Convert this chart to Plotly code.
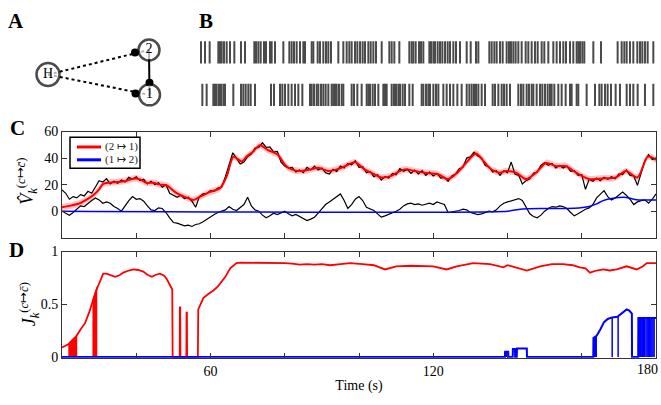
import plotly.graph_objects as go

W, H = 661, 405
def px(x): return x / W
def py(y): return 1 - y / H

# ---------------- Panel A: network diagram ----------------
node_names = ["H", "2", "1"]
node_x = [48, 149, 149.5]
node_y = [70, 44.5, 91]
node_size = [23, 21, 21]
edges = [("H", "2", "dash"), ("H", "1", "dash"), ("2", "1", "solid")]
head_x = [135, 135.5, 149.5]
head_y = [47, 89.5, 78.5]

# ---------------- Panel B: spike raster ----------------
spikes_n2 = [20.35, 21.75, 23.38, 26.42, 27.0, 27.59, 28.4, 29.34, 30.5, 32.02, 34.35, 35.76,
             39.02, 39.61, 40.42, 41.24, 42.41, 43.11, 44.51, 45.09, 46.26, 49.18, 51.28, 52.09,
             52.91, 53.84, 55.01, 56.18, 56.76, 59.1, 59.68, 61.2, 62.01, 63.18, 64.11, 64.93,
             65.86, 68.43, 70.18, 71.35, 72.28,
             73.1, 74.27, 75.09, 76.03, 76.95, 77.77, 78.94, 79.76, 80.69, 81.62, 83.61, 86.29,
             87.11, 88.04, 89.79, 93.29, 94.11, 94.69, 95.51, 96.68, 97.38, 98.19, 100.3, 100.88,
             101.7, 102.28, 103.21, 104.03, 104.85, 105.78, 106.71, 107.53, 108.7, 109.63, 111.03,
             113.37, 114.77, 116.63, 117.45, 121.3, 122.12, 123.05, 123.87, 125.04, 125.97,
             127.36, 128.18, 128.88, 129.7, 130.51, 131.45, 132.62, 134.02, 134.95, 136.12, 137.28,
             138.22, 139.62, 140.55, 141.95, 143.7, 144.87, 146.04, 147.2, 148.14, 149.54, 150.7,
             151.87, 152.45, 153.04, 153.85, 154.55, 157.71, 160.39, 166.22, 167.63, 168.56,
             169.38, 170.54, 171.71, 173.11, 174.05, 174.86, 175.79, 176.73, 178.71]
spikes_n1 = [20.82, 22.33, 24.67, 25.25, 25.84, 26.65, 27.35, 28.17, 28.75, 31.67, 34.35, 35.17,
             35.99, 36.92, 37.74, 39.26, 44.86, 45.91, 48.01, 48.83, 49.76, 50.93, 52.09, 53.26,
             54.43, 55.83, 58.51, 59.1, 59.91, 60.85, 61.43, 62.36, 63.18, 63.99, 64.93, 66.1,
             66.68, 67.26, 67.85, 68.66, 69.6, 70.18,
             73.1, 73.92, 75.09, 76.6, 78.36, 78.94, 79.52, 80.46, 81.27, 82.44, 84.19, 84.77,
             85.36, 87.11, 87.92, 88.62, 89.44, 90.03, 90.96, 91.78, 93.29, 94.46, 97.61, 98.19,
             99.13, 99.94, 100.53, 101.7, 102.63, 103.45, 105.2, 106.36, 107.53, 108.7, 110.1,
             111.61, 113.37, 114.3, 115.12, 115.93, 116.63, 117.45, 118.62, 119.79, 122.47,
             123.28, 124.45, 125.62, 126.44,
             127.36, 128.53, 131.45, 132.38, 133.2, 134.37, 135.18, 136.12, 136.7, 137.87, 139.03,
             139.85, 140.78, 141.72, 142.53, 143.12, 144.05, 145.45, 146.62, 148.02, 149.54,
             150.12, 151.87, 152.45, 155.37, 158.29, 159.81, 160.62, 161.79, 162.72, 163.89,
             165.52, 167.04, 169.38, 170.54, 171.71, 173.23, 175.79, 178.71]

# ---------------- Panel C ----------------
red_t = [20, 22, 24.8, 26.5, 28.4, 30, 31.1, 32.9, 35, 37.4, 39.7, 41, 42.8, 44.5, 46.4, 48.2,
         50.4, 52, 53.6, 55.4, 57.2, 59.9, 62.6, 64.4, 66.2, 68.4, 69.8, 71.5, 73.3, 75.5, 78.2,
         80, 81.8, 84.5, 87, 89, 91.7, 94, 96.2, 98.9, 101.5, 104, 106, 108.7, 110.5, 112.3, 115,
         117.7, 121.3, 124, 126.5, 128.8, 131.5, 133.3, 135.1, 137.8, 139.6, 142.3, 145, 147.7,
         150.4, 153.1, 155.8, 158.5, 162, 165.6, 169.2, 171.9, 175, 177.8, 180]
red_v = [2.9, 4, 6, 8.5, 12, 16.5, 20.6, 21.5, 22, 23, 24.7, 24, 21.3, 21.5, 20, 19.4, 14.5, 12,
         10.2, 8.5, 10.9, 14.5, 17.4, 26.6, 41, 37.5, 41.3, 45, 49.6, 46, 42.4, 35.1, 31.5, 30.3,
         31.5, 32.7, 30.3, 31.5, 33.9, 36.8, 31.5, 28, 25.4, 26.6, 29.5, 31.5, 30.3, 29, 27.8,
         24.2, 29, 36.3, 43.5, 38.7, 32.7, 29, 30.3, 29, 24.2, 29, 36.3, 33.9, 33.9, 29, 24.2,
         24.7, 25.4, 30.3, 25.4, 41.1, 38.7]
red_ci = 2.5

blue_t = [20, 140, 144, 150, 158, 162, 164, 165.6, 168, 171.9, 174, 175.4, 180]
blue_v = [0, 0, 1.7, 2, 2.2, 3.6, 5.5, 7.8, 9.5, 10.4, 9, 8.5, 8.5]

raw_t = list(range(20, 181))
raw_top = [16, 13.5, 9, 11, 10, 12.5, 11.5, 15, 13.5, 18, 23, 22, 24.5, 20.5, 22.5, 21, 23.5, 22,
           25.5, 24, 26, 23, 24, 20.5, 22.5, 20, 21.5, 18, 20, 13.5, 12, 10.5, 12, 9.5, 10.5, 7.5,
           3, 11, 13, 13.5, 15.5, 15, 17.5, 18, 26, 36, 44, 40, 35.5, 37, 41, 43, 47.5, 48, 51.5,
           48, 48.5, 44.5, 45, 37, 34, 32.5, 33, 29.5, 31, 29, 33, 31, 34, 31, 32.5, 29, 28, 31.5,
           30, 34, 32.5, 36, 35, 38, 33, 33.5, 29, 30, 26, 27.5, 23.5, 26, 25, 28.5, 27.5, 32, 30,
           31.5, 28.5, 31, 28, 30.5, 27, 29.5, 26.5, 28.5, 25, 25.5, 22.5, 26.5, 28, 32, 33, 40,
           41, 44.5, 41.5, 40, 34.5, 33.5, 29.5, 30.5, 27, 30.5, 29, 37, 28, 27, 20.5, 23, 24.5,
           28.5, 29.5, 34.5, 36.5, 34.5, 36, 32.5, 34.5, 32.5, 34, 30, 30.5, 27, 27.5, 16.5, 24,
           22.5, 25, 23, 25.5, 24, 26, 24.5, 28, 27.5, 31, 27, 26.5, 19.5, 28, 38, 42.5, 39, 40]
raw_bot = [0, -1.5, -3, -1, 1.5, 4, 3.5, 6, 8, 10, 8.5, 6, 7, 6, 3.5, 2, 0, 4, 8, 11, 9, 9.5,
           7.5, 4, 1, 0.5, 2.5, 2, -1, -5, -8.5, -9, -10, -11, -10.5, -11.5, -10, -9.5, -8, -6,
           -4, -2.5, -1, 0, 1, 3.5, 1.5, 0.5, 3, 5, 10.5, 4, 1, 0, -3, -5, -3.5, -1.5, -2.5, -1,
           0, -2, -3.5, -2.5, -4, -5.5, -7, -6, -4.5, -1.5, 2, 5, 7, 9, 11, 13, 8, 2, 5, 9, 11, 8,
           3, 1.5, 0.5, -2, -4.5, -3.5, -2.5, -1, 0, 1.5, 4, 5.5, 6, 5, 5.5, 4.5, 5.5, 6, 5, 7, 6,
           5, -1, -0.5, -0.5, 0.5, 1.5, 1, -1, -2, -2.5, -2, -1, 0, -0.5, 1, 4, 6, 7, 8, 9, 9.5,
           8, 2.5, -2, -4, -5, -3, 0, 2, 3.5, 3, 4, 3.5, 2, -1, -3.5, -2, 0, 1.5, 2.5, 5, 10, 13,
           15.5, 11, 8.5, 10, 12, 14.5, 12, 9, 5, 7, 8, 8.5, 6, 9, 13]

# ---------------- Panel D ----------------
jr_t = [20, 21, 21.7, 22.5, 23.9, 25, 26.2, 27.3, 28.4, 29.1, 29.8, 30.5, 31.1, 32, 33, 34.3,
        35.5, 36.5, 38, 39.2, 40.5, 41.9, 43, 44.2, 45.3, 46.4, 47.5, 48.2, 49.1, 49.7, 49.8,
        51.7, 51.75, 51.85, 51.9, 53.5, 53.55, 53.65, 53.7, 56.6, 56.7, 57.5, 58.1, 59.5, 60.8,
        62, 63, 64, 65.3, 66.2, 67, 68, 70, 75, 80, 82, 84, 86, 88, 90, 92.2, 95, 97.6, 101, 104,
        107, 110, 114, 117.4, 120, 123.6, 126.3, 130.8, 135.3, 138.9, 140, 141.2, 143, 145.2,
        148.8, 152, 155, 157.5, 159.5, 161, 162.2, 164, 165.8, 167.5, 169.4, 172.1, 174.8,
        176.5, 177.5, 180]
jr_v = [0.09, 0.11, 0.12, 0.15, 0.2, 0.26, 0.32, 0.42, 0.55, 0.62, 0.68, 0.75, 0.79, 0.79, 0.775,
        0.76, 0.775, 0.8, 0.82, 0.83, 0.825, 0.81, 0.78, 0.76, 0.78, 0.79, 0.77, 0.74, 0.68, 0.64,
        0, 0, 0.47, 0.47, 0, 0, 0.42, 0.42, 0, 0, 0.45, 0.52, 0.56, 0.6, 0.63, 0.67, 0.71, 0.76,
        0.84, 0.87, 0.89, 0.895, 0.895, 0.895, 0.89, 0.885, 0.875, 0.88, 0.875, 0.88, 0.87, 0.88,
        0.89, 0.88, 0.87, 0.83, 0.86, 0.865, 0.86, 0.86, 0.83, 0.86, 0.89, 0.88, 0.85, 0.87,
        0.86, 0.84, 0.82, 0.86, 0.88, 0.88, 0.87, 0.85, 0.84, 0.8, 0.82, 0.83, 0.82, 0.83, 0.86,
        0.83, 0.86, 0.89, 0.89]
jr_fill = [([21.7, 22.5, 23.3, 24.1], [0.12, 0.15, 0.18, 0.2]),
           ([28.2, 28.8, 29.5], [0.53, 0.6, 0.67])]

jb_t = [20, 139.3, 139.35, 140.2, 140.25, 141.4, 141.45, 142, 142.05, 142.5, 142.55, 145.2,
        145.25, 163.1, 163.15, 164, 165, 166, 167, 168.2, 169.6, 171.2, 172.1, 172.8, 173.5,
        173.55, 175.2, 175.25, 180]
jb_v = [0, 0, 0.05, 0.05, 0, 0, 0.075, 0.075, 0, 0, 0.08, 0.08, 0, 0, 0.18, 0.2, 0.26, 0.33,
        0.36, 0.375, 0.38, 0.42, 0.45, 0.44, 0.41, 0, 0, 0.37, 0.37]
jb_drop_t = [139.5, 139.7, 139.9, 163.3, 163.5, 163.7, 163.9, 168.2, 169.8, 175.5, 175.8, 176.0,
             176.3, 176.6, 176.9, 177.3, 177.6, 177.9, 178.2, 178.6, 178.9, 179.2, 179.5]
jb_drop_v = [0.05, 0.05, 0.05, 0.185, 0.19, 0.195, 0.2, 0.375, 0.385, 0.37, 0.37, 0.37, 0.37,
             0.37, 0.37, 0.37, 0.37, 0.37, 0.37, 0.37, 0.37, 0.37, 0.37]

x_major = [60, 120]
x_minor = [40, 80, 100, 140, 160, 180]

SERIF = "Liberation Serif, Times New Roman, serif"
AX = "#333333"
RED = "#ff0000"
BLUE = "#0000ff"

fig = go.Figure()

# ---- A ----
pos = {n: (x, y) for n, x, y in zip(node_names, node_x, node_y)}
for a, b, style in edges:
    fig.add_trace(go.Scatter(x=[pos[a][0], pos[b][0]], y=[pos[a][1], pos[b][1]], mode="lines",
                             line=dict(color="black", width=2, dash="3px,3px" if style == "dash" else "solid"),
                             xaxis="x4", yaxis="y4", showlegend=False, hoverinfo="skip"))
fig.add_trace(go.Scatter(x=head_x, y=head_y, mode="markers", marker=dict(color="black", size=8),
                         xaxis="x4", yaxis="y4", showlegend=False, hoverinfo="skip"))
fig.add_trace(go.Scatter(x=node_x, y=node_y, mode="markers+text", text=node_names,
                         textposition="middle center",
                         textfont=dict(family=SERIF, size=14, color="black"),
                         marker=dict(color="white", size=node_size, line=dict(color="black", width=2.5)),
                         xaxis="x4", yaxis="y4", showlegend=False, hoverinfo="skip"))

# ---- B ----
for row, sp in ((2, spikes_n2), (1, spikes_n1)):
    fig.add_trace(go.Scatter(x=sp, y=[row] * len(sp), mode="markers",
                             marker=dict(symbol="line-ns", size=16, line=dict(color="#4a4a4a", width=2)),
                             xaxis="x3", yaxis="y3", showlegend=False, hoverinfo="skip"))

# ---- C ----
fig.add_trace(go.Scatter(x=red_t, y=[v + red_ci for v in red_v], mode="lines",
                         line=dict(width=0, shape="spline", smoothing=0.8),
                         xaxis="x", yaxis="y", showlegend=False, hoverinfo="skip"))
fig.add_trace(go.Scatter(x=red_t, y=[v - red_ci for v in red_v], mode="lines",
                         line=dict(width=0, shape="spline", smoothing=0.8), fill="tonexty",
                         fillcolor="rgba(255,90,90,0.35)",
                         xaxis="x", yaxis="y", showlegend=False, hoverinfo="skip"))
fig.add_trace(go.Scatter(x=raw_t, y=raw_bot, mode="lines", line=dict(color="black", width=1.2),
                         xaxis="x", yaxis="y", showlegend=False))
fig.add_trace(go.Scatter(x=raw_t, y=raw_top, mode="lines", line=dict(color="black", width=1.2),
                         xaxis="x", yaxis="y", showlegend=False))
fig.add_trace(go.Scatter(x=red_t, y=red_v, mode="lines",
                         line=dict(color=RED, width=2, shape="spline", smoothing=0.8),
                         xaxis="x", yaxis="y", showlegend=False))
fig.add_trace(go.Scatter(x=blue_t, y=blue_v, mode="lines",
                         line=dict(color=BLUE, width=1.5, shape="spline", smoothing=0.6),
                         xaxis="x", yaxis="y", showlegend=False))

# ---- D ----
for ft, fv in jr_fill:
    fig.add_trace(go.Scatter(x=ft, y=fv, mode="lines", fill="tozeroy", fillcolor=RED,
                             line=dict(color=RED, width=1), xaxis="x2", yaxis="y2",
                             showlegend=False, hoverinfo="skip"))
fig.add_trace(go.Scatter(x=jr_t, y=jr_v, mode="lines", line=dict(color=RED, width=1.8),
                         xaxis="x2", yaxis="y2", showlegend=False))
dx, dy = [], []
for t, v in zip(jb_drop_t, jb_drop_v):
    dx += [t, t, None]
    dy += [0, v, None]
fig.add_trace(go.Scatter(x=dx, y=dy, mode="lines", line=dict(color=BLUE, width=1.5),
                         xaxis="x2", yaxis="y2", showlegend=False, hoverinfo="skip"))
fig.add_trace(go.Scatter(x=jb_t, y=jb_v, mode="lines", line=dict(color=BLUE, width=2),
                         xaxis="x2", yaxis="y2", showlegend=False))

tickfont = dict(family=SERIF, size=14, color="black")
common = dict(showline=True, linecolor=AX, linewidth=1, mirror="ticks", ticks="inside",
              ticklen=5, tickcolor=AX, showgrid=False, zeroline=False, tickfont=tickfont)
minor = dict(tickvals=x_minor, ticks="inside", ticklen=5, tickcolor=AX, showgrid=False)

fig.update_layout(
    width=W, height=H, margin=dict(l=0, r=0, t=0, b=0),
    paper_bgcolor="white", plot_bgcolor="white", showlegend=False,
    xaxis=dict(domain=[px(62), px(656)], range=[20, 180], tickvals=x_major, minor=minor,
               showticklabels=False, anchor="y", **common),
    yaxis=dict(domain=[py(239), py(129)], range=[-20, 60], tickvals=[0, 20, 40, 60],
               anchor="x", **common),
    xaxis2=dict(domain=[px(62), px(656)], range=[20, 180], tickvals=x_major, minor=minor,
                anchor="y2",
                title=dict(text="Time (s)", font=dict(family=SERIF, size=14, color="black"), standoff=2),
                **common),
    yaxis2=dict(domain=[py(363.3), py(253.3)], range=[-0.008, 1.0], tickvals=[0, 0.5, 1],
                ticktext=["0", "0.5", "1"], anchor="x2", **common),
    xaxis3=dict(domain=[px(200), px(657)], range=[20, 180], visible=False, anchor="y3"),
    yaxis3=dict(domain=[py(113), py(25)], range=[0.5, 2.5], visible=False, anchor="x3"),
    xaxis4=dict(domain=[0, px(200)], range=[0, 200], visible=False, anchor="y4"),
    yaxis4=dict(domain=[py(110), py(25)], range=[110, 25], visible=False, anchor="x4"),
)

# custom legend for panel C
fig.add_shape(type="rect", xref="paper", yref="paper", x0=px(70), x1=px(140), y0=py(167), y1=py(135),
              line=dict(color="black", width=1.5), fillcolor="white", layer="above")
for yy, col, lab in ((145, RED, "(2 ↦ 1)"), (158.3, BLUE, "(1 ↦ 2)")):
    fig.add_shape(type="line", xref="paper", yref="paper", x0=px(77), x1=px(101), y0=py(yy), y1=py(yy),
                  line=dict(color=col, width=3), layer="above")
    fig.add_annotation(x=px(103), y=py(yy), xref="paper", yref="paper", text=lab, showarrow=False,
                       xanchor="left", yanchor="middle", font=dict(family=SERIF, size=11, color="#222"))

# "180" label at the right edge (tick label that would overflow the page)
fig.add_annotation(x=px(660), y=py(375), xref="paper", yref="paper", text="180",
                   showarrow=False, xanchor="right", yanchor="middle", font=tickfont)

# axis titles
fig.add_annotation(x=px(27), y=py(180), xref="paper", yref="paper", textangle=-90, showarrow=False,
                   xanchor="center", yanchor="middle",
                   text="<i>V̂</i><sub><i>k</i></sub><sup>(<i>c</i>↦<i>c̄</i>)</sup>",
                   font=dict(family=SERIF, size=18, color="black"))
fig.add_annotation(x=px(29), y=py(308), xref="paper", yref="paper", textangle=-90, showarrow=False,
                   xanchor="center", yanchor="middle",
                   text="<i>J</i><sub><i>k</i></sub><sup>(<i>c</i>↦<i>c̄</i>)</sup>",
                   font=dict(family=SERIF, size=18, color="black"))

# panel letters
for lab, x0, y0 in (("A", 16, 15), ("B", 206, 15), ("C", 17, 125), ("D", 16, 252)):
    fig.add_annotation(x=px(x0), y=py(y0), xref="paper", yref="paper", text="<b>%s</b>" % lab,
                       showarrow=False, xanchor="center", yanchor="middle",
                       font=dict(family=SERIF, size=21, color="black"))

fig.write_html("out.html", config={"displayModeBar": False},
               post_script="document.body.style.margin='0px';document.body.style.overflow='hidden';")
